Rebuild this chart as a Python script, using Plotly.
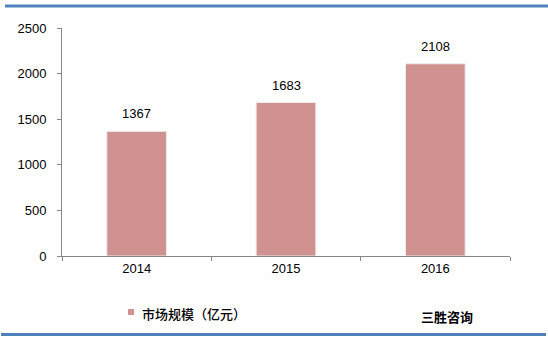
import plotly.graph_objects as go

years = ["2014", "2015", "2016"]
values = [1367, 1683, 2108]
series_name = "市场规模（亿元）"
y_ticks = [0, 500, 1000, 1500, 2000, 2500]
source_text = "三胜咨询"

W, H = 548, 341
L, R, T, B = 62, 38, 28, 85
pw, ph = W - L - R, H - T - B
bar_color = "#D09191"
num_font = dict(family="Liberation Sans, Arial, sans-serif", size=13, color="#000000")

def px(x):
    return (x - L) / pw

def py(y):
    return (H - B - y) / ph

fig = go.Figure()
fig.add_trace(go.Bar(
    x=years, y=values, name=series_name,
    marker=dict(color=bar_color, line=dict(color="#EDEDED", width=1)),
    width=0.4, showlegend=False,
))

annotations = [dict(
    x=i, y=v, xref="x", yref="y", text=str(v), showarrow=False,
    yanchor="bottom", yshift=8, font=num_font,
) for i, v in enumerate(values)]
annotations.append(dict(
    text=series_name, x=px(140), y=py(313), xref="paper", yref="paper",
    xanchor="left", yanchor="middle", showarrow=False,
    font=dict(family="Noto Sans CJK SC", size=13, color="#000000", weight=500),
))
annotations.append(dict(
    text=source_text, x=px(419), y=py(316), xref="paper", yref="paper",
    xanchor="left", yanchor="middle", showarrow=False,
    font=dict(family="Noto Sans CJK SC", size=13, color="#000000", weight="bold"),
))

fig.update_layout(
    width=W, height=H,
    margin=dict(l=L, r=R, t=T, b=B),
    paper_bgcolor="white", plot_bgcolor="white",
    showlegend=False,
    xaxis=dict(
        type="category", range=[-0.5, len(years) - 0.5],
        showline=True, linecolor="#868686", linewidth=1,
        ticks="outside", ticklen=4, tickcolor="#868686",
        tickson="boundaries",
        tickfont=num_font,
        showgrid=False,
    ),
    yaxis=dict(
        range=[0, 2500], tickvals=y_ticks,
        showline=True, linecolor="#868686", linewidth=1,
        ticks="outside", ticklen=4, tickcolor="#868686",
        tickfont=num_font,
        showgrid=False, zeroline=False,
        ticklabelstandoff=8,
    ),
    annotations=annotations,
    shapes=[
        dict(type="line", xref="paper", yref="paper", x0=px(5), x1=px(548), y0=py(6), y1=py(6),
             line=dict(color="#4F81BD", width=3)),
        dict(type="line", xref="paper", yref="paper", x0=px(1), x1=px(546), y0=py(334.5), y1=py(334.5),
             line=dict(color="#4F81BD", width=3)),
        dict(type="rect", xref="paper", yref="paper", x0=px(128), x1=px(134), y0=py(309), y1=py(315),
             fillcolor=bar_color, line=dict(width=0)),
    ],
)

fig.write_html("out.html")
